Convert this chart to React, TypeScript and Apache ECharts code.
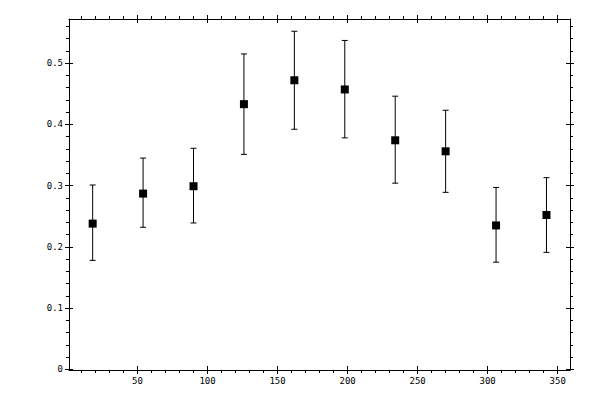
import React, { useEffect, useRef } from 'react';
import * as echarts from 'echarts';

// bin centres (x) and measured values with their error limits
const angles = [18, 54, 90, 126, 162, 198, 234, 270, 306, 342];
const values = [0.238, 0.287, 0.299, 0.433, 0.472, 0.457, 0.374, 0.356, 0.235, 0.252];
const upper = [0.301, 0.345, 0.361, 0.515, 0.552, 0.537, 0.446, 0.423, 0.297, 0.313];
const lower = [0.178, 0.232, 0.239, 0.351, 0.392, 0.378, 0.304, 0.289, 0.175, 0.191];

const xMajor = [50, 100, 150, 200, 250, 300, 350];
const xMinor = [10, 20, 30, 40, 60, 70, 80, 90, 110, 120, 130, 140, 160, 170, 180, 190, 210, 220, 230, 240, 260, 270, 280, 290, 310, 320, 330, 340];
const yMajor = [0, 0.1, 0.2, 0.3, 0.4, 0.5];
const yMinor = [0.02, 0.04, 0.06, 0.08, 0.12, 0.14, 0.16, 0.18, 0.22, 0.24, 0.26, 0.28, 0.32, 0.34, 0.36, 0.38, 0.42, 0.44, 0.46, 0.48, 0.52, 0.54, 0.56];

const X_MIN = 1.1;
const X_MAX = 358.8;
const Y_MIN = -0.001;
const Y_MAX = 0.572;

const INK = '#000';
const FONT = 'DejaVu Sans Mono';

type Side = 'bottom' | 'top' | 'left' | 'right';

function tickAxis(
  position: Side,
  ticks: number[],
  inside: boolean,
  length: number,
  withLine: boolean,
  withLabels: boolean,
  min: number,
  max: number,
) {
  return {
    type: 'value',
    position,
    min,
    max,
    axisLine: { show: withLine, onZero: false, lineStyle: { color: INK, width: 1 } },
    axisTick: {
      show: true,
      inside,
      length,
      customValues: ticks,
      lineStyle: { color: INK, width: 1 },
    },
    axisLabel: {
      show: withLabels,
      customValues: ticks,
      color: INK,
      fontFamily: FONT,
      fontSize: 9,
      margin: 6,
      formatter: (v: number) => (v === 0 ? '0' : String(+v.toFixed(2))),
    },
    splitLine: { show: false },
  };
}

function buildOption() {
  const errorData = angles.map((a, i) => [a, lower[i], upper[i]]);

  return {
    animation: false,
    backgroundColor: '#fff',
    grid: {
      left: 69,
      right: 30,
      top: 19,
      bottom: 30,
      containLabel: false,
      outerBoundsMode: 'none',
    },
    xAxis: [
      tickAxis('bottom', xMajor, false, 4, true, true, X_MIN, X_MAX),
      tickAxis('bottom', xMajor, true, 4, false, false, X_MIN, X_MAX),
      tickAxis('bottom', xMinor, false, 3, false, false, X_MIN, X_MAX),
      tickAxis('top', xMajor, false, 4, true, false, X_MIN, X_MAX),
      tickAxis('top', xMajor, true, 4, false, false, X_MIN, X_MAX),
      tickAxis('top', xMinor, false, 3, false, false, X_MIN, X_MAX),
    ],
    yAxis: [
      tickAxis('left', yMajor, false, 4, true, true, Y_MIN, Y_MAX),
      tickAxis('left', yMajor, true, 4, false, false, Y_MIN, Y_MAX),
      tickAxis('left', yMinor, false, 3, false, false, Y_MIN, Y_MAX),
      tickAxis('right', yMajor, false, 4, true, false, Y_MIN, Y_MAX),
      tickAxis('right', yMajor, true, 4, false, false, Y_MIN, Y_MAX),
      tickAxis('right', yMinor, false, 3, false, false, Y_MIN, Y_MAX),
    ],
    series: [
      {
        type: 'custom',
        xAxisIndex: 0,
        yAxisIndex: 0,
        data: errorData,
        silent: true,
        renderItem: (_params: any, api: any) => {
          const x = api.value(0);
          const lo = api.coord([x, api.value(1)]);
          const hi = api.coord([x, api.value(2)]);
          const cap = 3;
          const style = { stroke: INK, lineWidth: 1 };
          return {
            type: 'group',
            children: [
              { type: 'line', shape: { x1: hi[0], y1: hi[1], x2: lo[0], y2: lo[1] }, style },
              { type: 'line', shape: { x1: hi[0] - cap, y1: hi[1], x2: hi[0] + cap, y2: hi[1] }, style },
              { type: 'line', shape: { x1: lo[0] - cap, y1: lo[1], x2: lo[0] + cap, y2: lo[1] }, style },
            ],
          };
        },
        z: 2,
      },
      {
        type: 'scatter',
        xAxisIndex: 0,
        yAxisIndex: 0,
        data: angles.map((a, i) => [a, values[i]]),
        symbol: 'rect',
        symbolSize: 8,
        itemStyle: { color: INK, opacity: 1 },
        silent: true,
        z: 3,
      },
    ],
  };
}

export default function App() {
  const containerRef = useRef<HTMLDivElement | null>(null);

  useEffect(() => {
    if (!containerRef.current) {
      return undefined;
    }
    const chart = echarts.init(containerRef.current, undefined, { renderer: 'svg' });
    chart.setOption(buildOption() as any);
    return () => {
      chart.dispose();
    };
  }, []);

  return (
    <div
      ref={containerRef}
      style={{ position: 'fixed', left: 0, top: 0, width: 600, height: 400, background: '#fff' }}
    />
  );
}
